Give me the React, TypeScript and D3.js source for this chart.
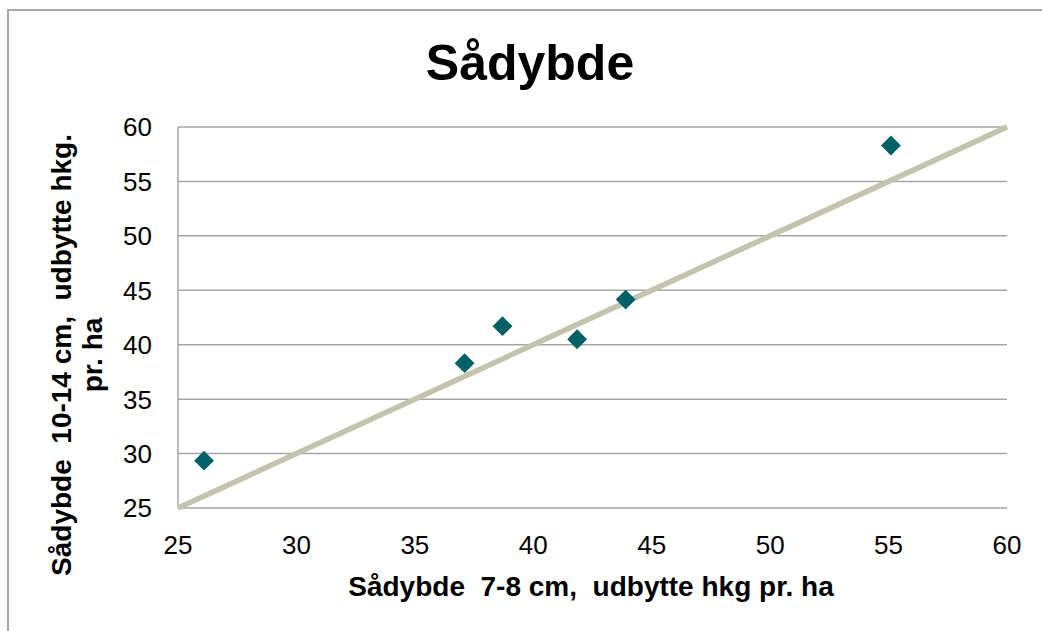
import React from "react";
import * as d3 from "d3";

const xValues = [26.1, 37.1, 38.7, 41.85, 43.9, 55.1];
const yValues = [29.35, 38.3, 41.7, 40.5, 44.15, 58.3];
const lineXs = [25, 60];
const tickValues = [25, 30, 35, 40, 45, 50, 55, 60];
const title = "Sådybde";
const xTitle = "Sådybde  7-8 cm,  udbytte hkg pr. ha";
const yTitleLines = ["Sådybde  10-14 cm,  udbytte hkg.", "pr. ha"];

export default function App() {
  const W = 1042, H = 631;
  const x = d3.scaleLinear().domain([25, 60]).range([178, 1007]);
  const y = d3.scaleLinear().domain([25, 60]).range([508, 127]);
  const font = "Liberation Sans, Arial, sans-serif";
  const line = d3.line<number>().x(d => x(d)).y(d => y(d));
  const diamond = d3.symbol().type(d3.symbolDiamond2).size(250)();
  const data = xValues.map((v, i) => ({ x: v, y: yValues[i] }));
  return (
    <svg width={W} height={H} style={{ position: "absolute", left: 0, top: 0, background: "#fff" }} fontFamily={font}>
      <rect x={0} y={0} width={W} height={H} fill="#fff" />
      <rect x={8} y={10} width={W + 20} height={H + 20} fill="none" stroke="#a8a8a8" strokeWidth={2} />
      <text x={530} y={80} textAnchor="middle" fontSize={50} fontWeight="bold" fill="#000">{title}</text>
      {tickValues.map(t => (
        <line key={"g" + t} x1={x(25)} x2={x(60)} y1={y(t)} y2={y(t)} stroke="#a6a6a6" strokeWidth={1.5} />
      ))}
      <line x1={x(25)} x2={x(25)} y1={y(25)} y2={y(60)} stroke="#a6a6a6" strokeWidth={1.5} />
      {tickValues.map(t => (
        <text key={"yl" + t} x={152} y={y(t)} dy="0.36em" textAnchor="end" fontSize={26} fill="#000">{t}</text>
      ))}
      {tickValues.map(t => (
        <text key={"xl" + t} x={x(t)} y={554} textAnchor="middle" fontSize={26} fill="#000">{t}</text>
      ))}
      <path d={line(lineXs) ?? ""} stroke="#c4c3ae" strokeWidth={5.5} fill="none" />
      {data.map((d, i) => (
        <path key={"p" + i} d={diamond ?? ""} transform={`translate(${x(d.x)},${y(d.y)})`} fill="#006068" />
      ))}
      <text x={591} y={596} textAnchor="middle" fontSize={28} fontWeight="bold" fill="#000" style={{ whiteSpace: "pre" }}>{xTitle}</text>
      <g transform="translate(71,355) rotate(-90)">
        {yTitleLines.map((l, i) => (
          <text key={"yt" + i} x={0} y={i * 31} textAnchor="middle" fontSize={28} fontWeight="bold" fill="#000" style={{ whiteSpace: "pre" }}>{l}</text>
        ))}
      </g>
    </svg>
  );
}
